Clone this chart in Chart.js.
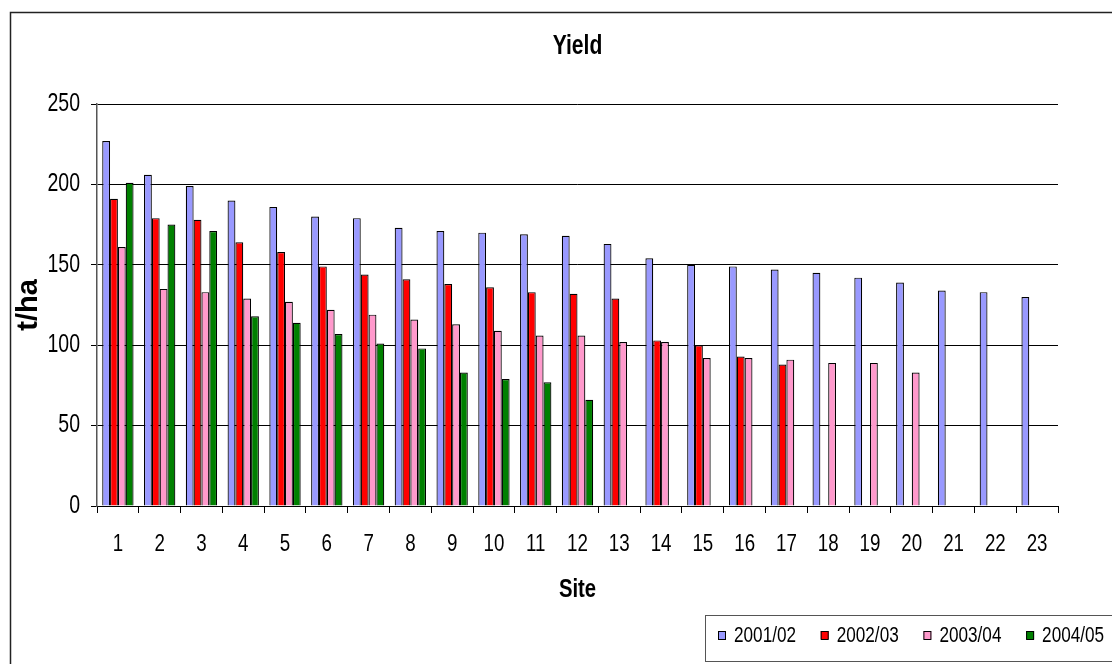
<!DOCTYPE html>
<html>
<head>
<meta charset="utf-8">
<title>Yield</title>
<script src="https://cdn.jsdelivr.net/npm/chart.js@4"></script>
<style>
  html, body { margin: 0; padding: 0; background: #ffffff; }
  #wrap { position: relative; width: 1112px; height: 664px; }
</style>
</head>
<body>
<div id="wrap"><canvas id="chart"></canvas></div>
<script>
// Sites 1..23 and yield (t/ha) per season
const sites = ['1','2','3','4','5','6','7','8','9','10','11','12','13','14','15','16','17','18','19','20','21','22','23'];
const seasonLabels = ['2001/02', '2002/03', '2003/04', '2004/05'];
const yield2001 = [227, 206, 199, 190, 186, 180, 179, 173, 171, 170, 169, 168, 163, 154, 150, 149, 147, 145, 142, 139, 134, 133, 130];
const yield2002 = [191, 179, 178, 164, 158, 149, 144, 141, 138, 136, 133, 132, 129, 103, 100, 93, 88, null, null, null, null, null, null];
const yield2003 = [161, 135, 133, 129, 127, 122, 119, 116, 113, 109, 106, 106, 102, 102, 92, 92, 91, 89, 89, 83, null, null, null];
const yield2004 = [201, 175, 171, 118, 114, 107, 101, 98, 83, 79, 77, 66, null, null, null, null, null, null, null, null, null, null, null];
const yTicks = [0, 50, 100, 150, 200, 250];
const chartTitle = 'Yield';

const seasonColors = ['#9999FF', '#FF0000', '#FF99CC', '#008000'];

const FONT = '"Liberation Sans", Arial, sans-serif';
const TEXT_SQUEEZE = 0.78; // horizontal text is drawn condensed (narrow typeface look)

// Condense horizontal text around its anchor point; rotated text is left as is
const narrowText = {
  id: 'narrowText',
  beforeInit(chart) {
    const ctx = chart.ctx;
    const fill = ctx.fillText.bind(ctx);
    ctx.fillText = function (text, x, y, maxWidth) {
      const m = ctx.getTransform();
      if (m.b !== 0 || m.c !== 0) {
        return maxWidth === undefined ? fill(text, x, y) : fill(text, x, y, maxWidth);
      }
      ctx.save();
      ctx.translate(x, y);
      ctx.scale(TEXT_SQUEEZE, 1);
      if (maxWidth === undefined) fill(text, 0, 0);
      else fill(text, 0, 0, maxWidth / TEXT_SQUEEZE);
      ctx.restore();
    };
  }
};

// Frame around the whole chart, title centred over the plot, boxed legend lower right
const frameAndLegend = {
  id: 'frameAndLegend',
  afterDraw(chart) {
    const ctx = chart.ctx;
    const area = chart.chartArea;
    ctx.save();
    ctx.strokeStyle = '#222222';
    ctx.lineWidth = 1.5;
    ctx.strokeRect(10.5, 12.5, chart.width + 20, chart.height + 20);

    ctx.fillStyle = '#000000';
    ctx.font = 'bold 27px ' + FONT;
    ctx.textAlign = 'center';
    ctx.textBaseline = 'middle';
    ctx.fillText(chartTitle, (area.left + area.right) / 2, 47);

    ctx.lineWidth = 1;
    ctx.strokeStyle = '#555555';
    ctx.strokeRect(705.5, 615.5, 420, 46);
    ctx.font = '22px ' + FONT;
    ctx.textAlign = 'left';
    chart.data.datasets.forEach((ds, i) => {
      const x = 718 + i * 102.7;
      const y = 635;
      ctx.fillStyle = ds.backgroundColor;
      ctx.fillRect(x, y - 4, 8, 8);
      ctx.strokeStyle = '#000000';
      ctx.strokeRect(x + 0.5, y - 3.5, 7, 8);
      ctx.fillStyle = '#000000';
      ctx.fillText(ds.label, x + 16, y + 1);
    });
    ctx.restore();
  }
};

const datasets = [yield2001, yield2002, yield2003, yield2004].map((vals, i) => ({
  label: seasonLabels[i],
  data: vals,
  backgroundColor: seasonColors[i],
  borderColor: '#000000',
  borderWidth: 1.2,
  categoryPercentage: 0.75,
  barPercentage: 1.0
}));

new Chart(document.getElementById('chart'), {
  type: 'bar',
  data: { labels: sites, datasets },
  plugins: [narrowText, frameAndLegend],
  options: {
    responsive: true,
    maintainAspectRatio: false,
    animation: false,
    devicePixelRatio: 1,
    layout: { padding: { left: 10, right: 54, top: 104, bottom: 58 } },
    plugins: {
      legend: { display: false },
      tooltip: { enabled: false },
      title: { display: false }
    },
    scales: {
      x: {
        grid: {
          display: true,
          drawOnChartArea: false,
          drawTicks: true,
          tickLength: 7,
          color: '#000000',
          offset: true
        },
        border: { display: true, color: '#000000', width: 1 },
        ticks: {
          color: '#000000',
          font: { family: FONT, size: 24 },
          padding: 17,
          maxRotation: 0,
          autoSkip: false
        },
        title: {
          display: true,
          text: 'Site',
          color: '#000000',
          font: { family: FONT, size: 26, weight: 'bold' },
          padding: { top: 0, bottom: 1 }
        },
        afterFit(scale) { scale.height = 100; }
      },
      y: {
        min: 0,
        max: 250,
        afterBuildTicks(scale) { scale.ticks = yTicks.map(v => ({ value: v })); },
        grid: {
          color: '#000000',
          lineWidth: 1,
          drawTicks: true,
          tickLength: 6
        },
        border: { display: true, color: '#555555', width: 1.5 },
        ticks: {
          color: '#000000',
          font: { family: FONT, size: 25 },
          padding: 11
        },
        title: {
          display: true,
          text: 't/ha',
          color: '#000000',
          font: { family: FONT, size: 29, weight: 'bold' },
          padding: { top: 2, bottom: 0 }
        },
        afterFit(scale) { scale.width = 87; }
      }
    }
  }
});
</script>
</body>
</html>
